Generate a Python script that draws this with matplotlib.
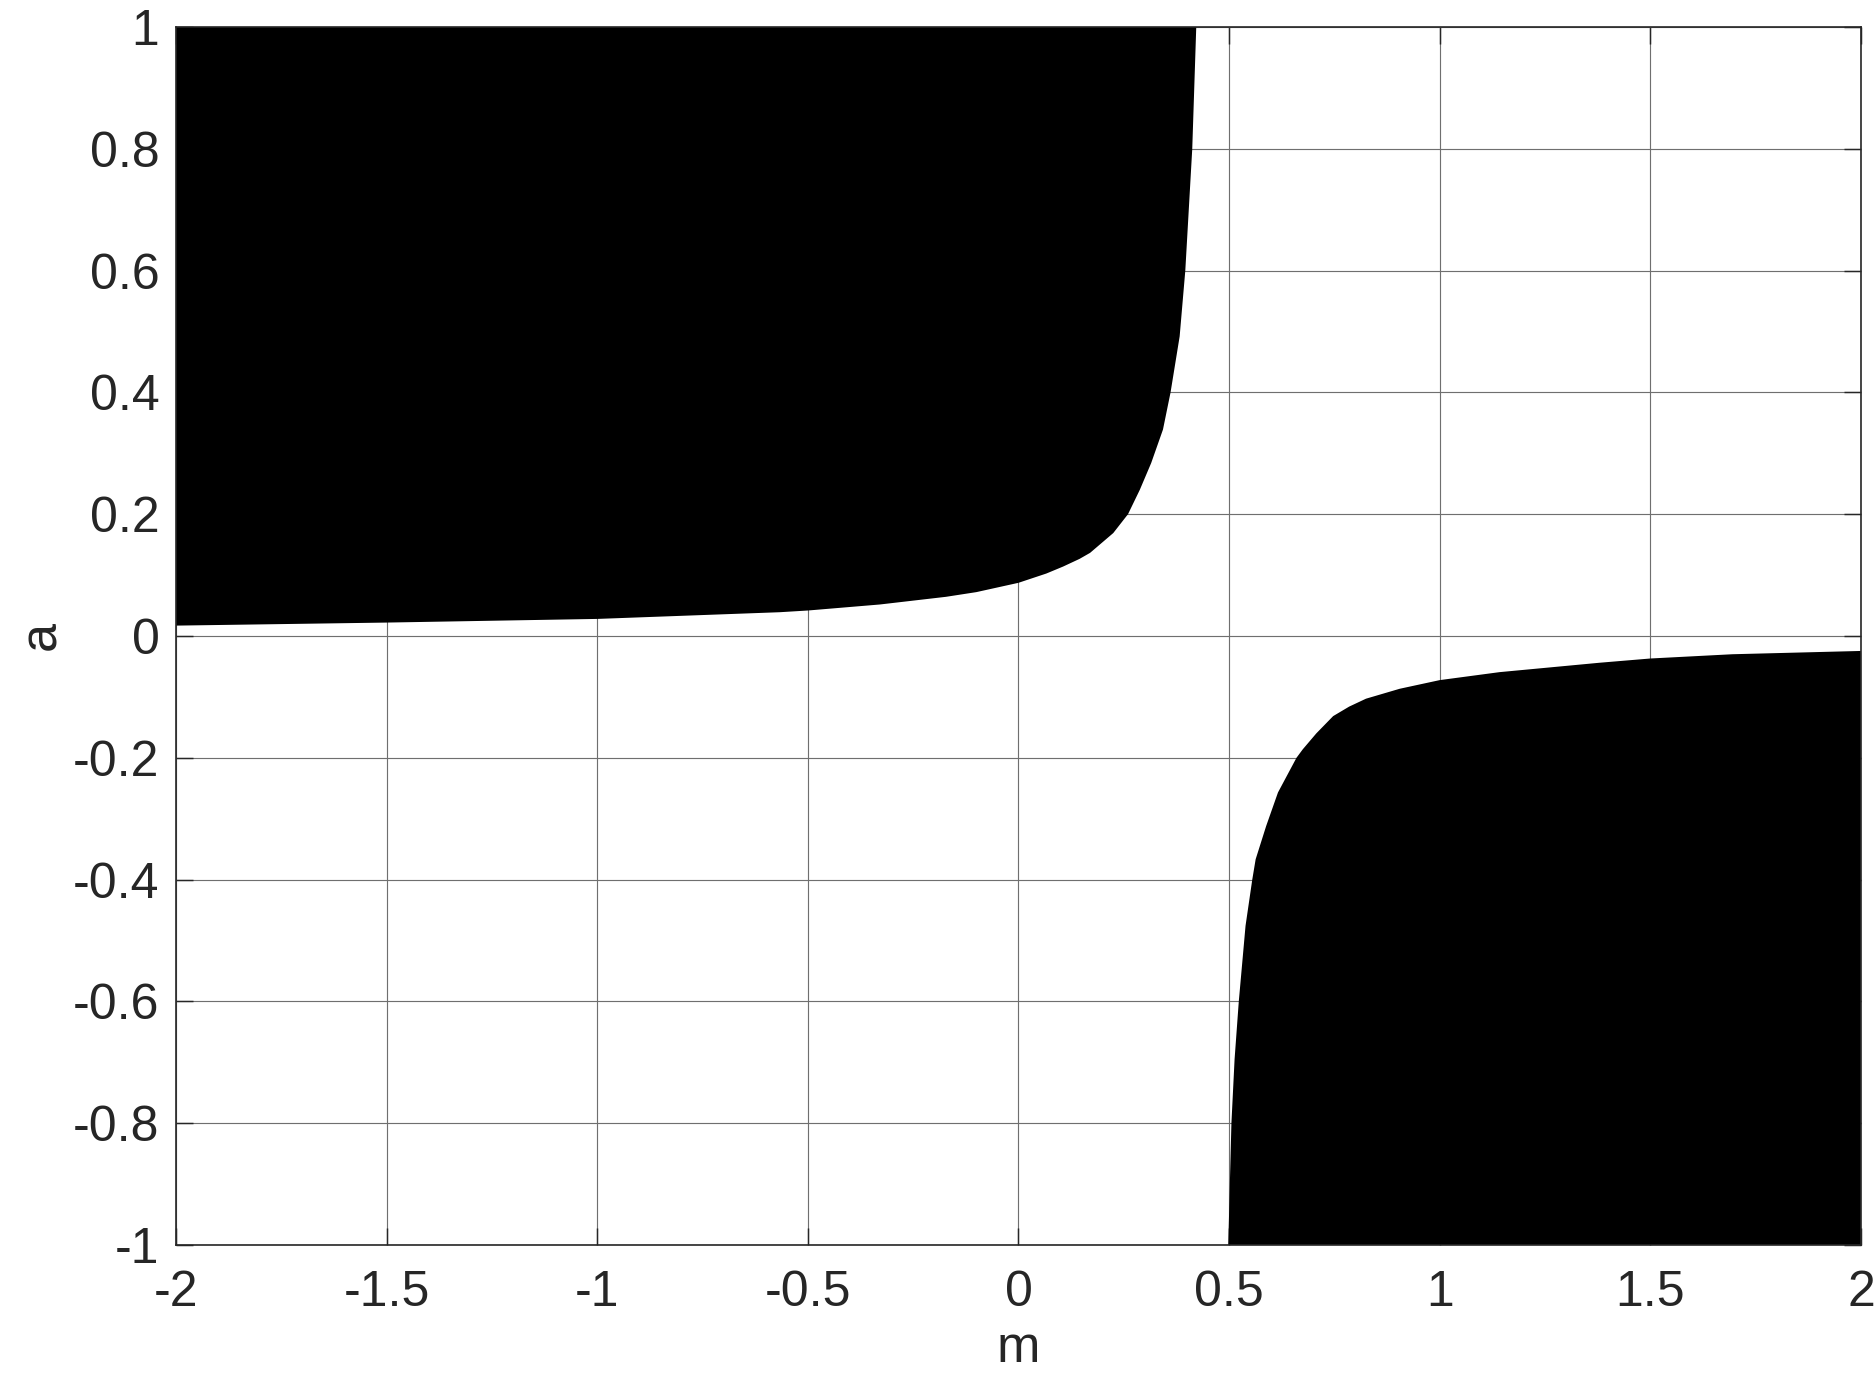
import matplotlib
matplotlib.use('Agg')
import matplotlib.pyplot as plt

# Граница верхней (левой) закрашенной области: m -> a
upper_m = [-2.0, -1.5, -1.0, -0.567, -0.5, -0.329, -0.172, -0.1, 0.0, 0.066,
           0.106, 0.145, 0.170, 0.225, 0.260, 0.288, 0.315, 0.343, 0.361,
           0.3826, 0.396, 0.4125, 0.422]
upper_a = [0.017, 0.022, 0.028, 0.039, 0.0418, 0.0517, 0.0643, 0.072, 0.0873, 0.1025,
           0.114, 0.1266, 0.1365, 0.169, 0.200, 0.240, 0.284, 0.339, 0.400,
           0.492, 0.600, 0.800, 1.000]

# Граница нижней (правой) закрашенной области
lower_m = [0.498, 0.5055, 0.513, 0.523, 0.539, 0.555, 0.563, 0.588, 0.616,
           0.660, 0.675, 0.707, 0.747, 0.785, 0.825, 0.905, 1.0, 1.142,
           1.379, 1.5, 1.695, 2.0]
lower_a = [-1.0, -0.8, -0.695, -0.6, -0.476, -0.4, -0.3667, -0.312, -0.257,
           -0.200, -0.186, -0.160, -0.1316, -0.116, -0.103, -0.0867, -0.0725, -0.0594,
           -0.044, -0.037, -0.030, -0.0246]

x_ticks = [-2, -1.5, -1, -0.5, 0, 0.5, 1, 1.5, 2]
x_labels = ['-2', '-1.5', '-1', '-0.5', '0', '0.5', '1', '1.5', '2']
y_ticks = [1, 0.8, 0.6, 0.4, 0.2, 0, -0.2, -0.4, -0.6, -0.8, -1]
y_labels = ['1', '0.8', '0.6', '0.4', '0.2', '0', '-0.2', '-0.4', '-0.6', '-0.8', '-1']

plt.rcParams['font.family'] = ['Liberation Sans', 'DejaVu Sans']
plt.rcParams['axes.unicode_minus'] = False

TXT = '#262626'

fig = plt.figure(figsize=(12.5, 9.18), dpi=150)
ax = fig.add_axes([0.0939, 0.0959, 0.8986, 0.8845])
ax.set_axisbelow(True)

# верхняя область: граница + верхний левый угол
ax.fill(upper_m + [-2.0], upper_a + [1.0], color='black', linewidth=0, zorder=2)
# нижняя область: граница + нижний правый угол
ax.fill(lower_m + [2.0], lower_a + [-1.0], color='black', linewidth=0, zorder=2)

ax.set_xlim(-2, 2)
ax.set_ylim(-1, 1)
ax.set_xticks(x_ticks)
ax.set_xticklabels(x_labels)
ax.set_yticks(y_ticks)
ax.set_yticklabels(y_labels)

ax.grid(True, color='#6f6f6f', linewidth=0.55, zorder=1)
ax.tick_params(direction='in', length=8, width=0.7, color=TXT,
               labelsize=24, labelcolor=TXT, top=True, right=True)
ax.tick_params(axis='x', pad=12)
ax.tick_params(axis='y', pad=8)
for s in ax.spines.values():
    s.set_color(TXT)
    s.set_linewidth(0.8)
    s.set_zorder(3)

ax.set_xlabel('m', fontsize=25, color=TXT)
ax.xaxis.set_label_coords(0.5, -0.085)
ax.xaxis.label.set_verticalalignment('center')
ax.set_ylabel('a', fontsize=25, color=TXT)
ax.yaxis.set_label_coords(-0.0795, 0.5)
ax.yaxis.label.set_verticalalignment('center')

fig.savefig('out.png', dpi=150)
